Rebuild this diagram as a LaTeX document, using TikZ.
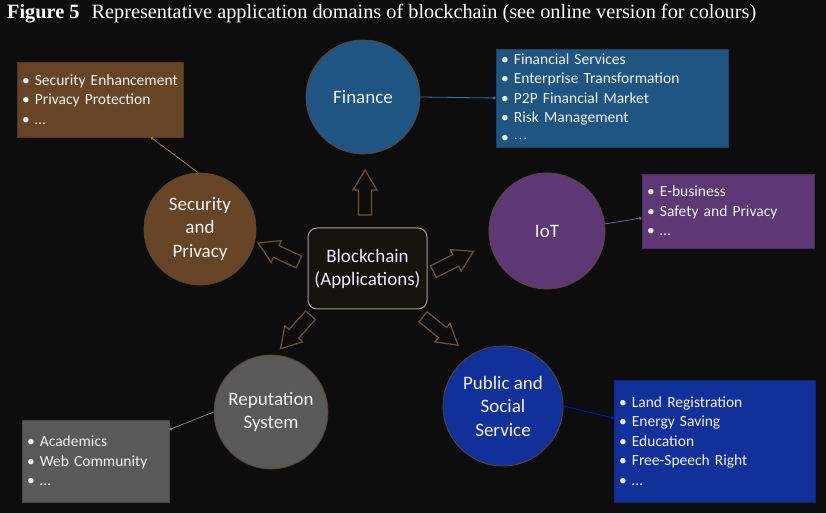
\documentclass[tikz,border=0pt]{standalone}
\usepackage{fontspec}
\setmainfont{Carlito}
\newfontfamily\titlefont{Liberation Serif}
\usetikzlibrary{arrows.meta,calc,positioning}

\definecolor{bgcol}{HTML}{0D0D0D}
\definecolor{fincol}{HTML}{1F5582}
\definecolor{iotcol}{HTML}{5E3775}
\definecolor{seccol}{HTML}{674426}
\definecolor{repcol}{HTML}{595959}
\definecolor{pubcol}{HTML}{12309A}
\definecolor{rimcol}{HTML}{5A4530}
\definecolor{arrcol}{HTML}{6E5236}
\definecolor{txtcol}{HTML}{F2F2F2}
\definecolor{corecol}{HTML}{16130F}
\definecolor{finline}{HTML}{2E75B6}

\newcommand{\itm}{\textbullet\ }

\begin{document}
\begin{tikzpicture}[x=1pt, y=1pt,
    area/.style={circle, draw=rimcol, line width=0.8pt, minimum size=114pt, inner sep=0pt, align=center, text=txtcol, font=\fontsize{19}{23.5}\selectfont},
    listbox/.style={rectangle, line width=0.8pt, inner xsep=5pt, inner ysep=0pt, align=left, text=txtcol, font=\fontsize{15.5}{19.4}\selectfont},
    core/.style={rectangle, rounded corners=9pt, draw=gray!75, line width=1pt, fill=corecol, minimum width=119pt, minimum height=81pt, align=center, text=blue!8!white, font=\fontsize{19}{23}\selectfont},
    link/.style={{Circle[length=3pt]}-, line width=0.8pt},
    blockarrow/.pic={\draw[draw=arrcol, line width=1.2pt, fill=bgcol, line join=miter] (-22.5,-6.5) -- (2.5,-6.5) -- (2.5,-12) -- (22.5,0) -- (2.5,12) -- (2.5,6.5) -- (-22.5,6.5) -- cycle;}]

\fill[bgcol] (0,0) rectangle (826,513);
\useasboundingbox (0,0) rectangle (826,513);

% caption
\node[anchor=base west, inner sep=0pt, text=white, font=\titlefont\fontsize{20.3}{24}\selectfont] (title) at (7,494) {\textbf{Figure 5}\hspace{12pt}Representative application domains of blockchain (see online version for colours)};

% centre
\node[core] (bc) at (367.5,244.5) {Blockchain\\(Applications)};

% application areas
\node[area, fill=fincol] (fin) at (363,416) {Finance};
\node[area, fill=iotcol, minimum size=116pt] (iot) at (547,282) {IoT};
\node[area, fill=seccol, minimum size=112pt] (sec) at (200,284) {Security\\and\\Privacy};
\node[area, fill=repcol] (rep) at (271,101) {Reputation\\System};
\node[area, fill=pubcol, minimum size=120pt] (pub) at (503,107) {Public and\\Social\\Service};

% lists
\node[listbox, fill=fincol, draw=fincol!80!black, text width=222pt, minimum height=98pt] (finbox) at (612,415)
  {\itm Financial Services\\ \itm Enterprise Transformation\\ \itm P2P Financial Market\\ \itm Risk Management\\ \itm \textbf{$\cdot\!\cdot\!\cdot$}};
\node[listbox, fill=iotcol, draw=iotcol!80!black, text width=162pt, minimum height=74pt] (iotbox) at (728,302)
  {\itm E-business\\ \itm Safety and Privacy\\ \itm \dots};
\node[listbox, fill=seccol, draw=seccol!80!black, text width=156pt, minimum height=75pt] (secbox) at (100,413.5)
  {\itm Security Enhancement\\ \itm Privacy Protection\\ \itm \dots};
\node[listbox, fill=repcol, draw=repcol!80!black, text width=137pt, minimum height=82pt] (repbox) at (95.5,52)
  {\itm Academics\\ \itm Web Community\\ \itm \dots};
\node[listbox, fill=pubcol, draw=pubcol!80!black, text width=191pt, minimum height=122pt] (pubbox) at (714.5,72)
  {\itm Land Registration\\ \itm Energy Saving\\ \itm Education\\ \itm Free-Speech Right\\ \itm \dots};

% links
\coordinate (secdot) at ($(secbox.south)+(51,0)$);
\coordinate (iotdot) at ($(iotbox.west)+(0,-7)$);
\coordinate (repdot) at ($(repbox.north east)+(0,-10)$);
\coordinate (pubdot) at ($(pubbox.west)+(0,23)$);
\draw[link, draw=finline] (finbox.west) -- (fin.east);
\draw[link, draw=iotcol!80!white] (iotdot) -- (iot.7);
\draw[link, draw=seccol!70!yellow] (secdot) -- (sec.92);
\draw[link, draw=gray] (repdot) -- (rep.west);
\draw[link, draw=blue!60!pubcol] (pubdot) -- (pub.east);

% block arrows
\pic[rotate=90] at (365,320.5) {blockarrow};
\pic[rotate=155] at (278.5,260.5) {blockarrow};
\pic[rotate=27] at (453.5,251.5) {blockarrow};
\pic[rotate=228] at (295.5,181) {blockarrow};
\pic[rotate=-39] at (440.5,182) {blockarrow};
\end{tikzpicture}
\end{document}
